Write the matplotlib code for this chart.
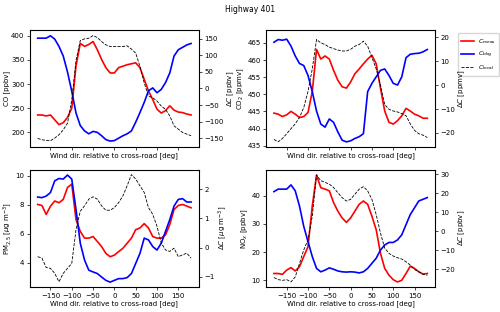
import numpy as np
import matplotlib
matplotlib.use("Agg")
import matplotlib.pyplot as plt

plt.rcParams['font.size'] = 5

# wind direction relative to cross-road [deg]
wind_dir = list(range(-180, 181, 10))

# CO [ppbv]
co_meas = [236, 236, 234, 236, 226, 216, 220, 231, 250, 338, 384, 378, 382, 388, 371, 351, 334, 323, 323,
           334, 337, 340, 342, 344, 334, 310, 286, 268, 248, 240, 245, 255, 246, 242, 241, 238, 236]
co_bkg = [395, 395, 395, 400, 393, 378, 358, 325, 285, 240, 214, 203, 197, 202, 200, 193, 185, 182, 183,
          188, 193, 197, 203, 221, 241, 262, 286, 292, 282, 289, 303, 323, 358, 371, 376, 381, 384]
co_local = [-151, -155, -157, -158, -150, -140, -125, -105, -35, 85, 145, 150, 152, 160, 154, 142, 132, 127, 127,
            127, 127, 129, 119, 107, 67, 17, -23, -28, -38, -53, -63, -83, -113, -123, -133, -138, -143]

# CO2 [ppmv]
co2_meas = [444.5, 444.2, 443.5, 444.0, 445.0, 444.2, 443.2, 443.5, 444.7, 450.8, 463.1, 460.3, 461.2, 460.3,
            457.0, 454.1, 452.2, 451.8, 453.6, 456.0, 457.4, 458.9, 460.3, 461.4, 458.9, 451.8, 445.1, 441.8,
            441.3, 442.3, 443.7, 445.9, 445.1, 444.2, 443.7, 443.0, 443.0]
co2_bkg = [465.2, 466.0, 465.8, 466.1, 464.1, 461.2, 459.0, 458.4, 455.5, 450.8, 445.1, 441.3, 440.4, 442.8,
           441.8, 439.0, 436.6, 436.1, 436.4, 437.1, 437.6, 438.5, 450.8, 453.2, 455.1, 457.0, 457.4, 455.5,
           453.2, 452.7, 455.1, 460.7, 461.7, 461.9, 462.0, 462.4, 463.1]
co2_local = [-22.7, -23.7, -22.3, -20.3, -18.2, -16.2, -13.5, -9.4, -2.6, 6.8, 19.1, 17.7, 17.0, 15.9, 15.3,
             14.7, 14.3, 14.3, 15.0, 16.3, 17.0, 18.4, 16.3, 11.6, 6.8, 0.1, -8.1, -10.1, -10.8, -11.2, -11.9,
             -12.8, -16.2, -18.9, -20.3, -20.9, -21.9]

# PM2.5 [ug m-3]
pm_meas = [8.02, 7.95, 7.33, 7.90, 8.26, 8.14, 8.37, 9.19, 9.42, 6.98, 6.16, 5.70, 5.70, 5.81, 5.47, 5.12,
           4.65, 4.42, 4.53, 4.77, 5.00, 5.35, 5.70, 6.28, 6.40, 6.70, 6.40, 5.81, 5.70, 5.70, 5.93, 6.63,
           7.67, 7.95, 8.02, 7.91, 7.79]
pm_bkg = [8.53, 8.49, 8.60, 8.84, 9.65, 9.81, 9.77, 10.05, 9.77, 7.67, 5.35, 4.19, 3.49, 3.37, 3.26, 3.02,
          2.79, 2.67, 2.79, 2.91, 2.91, 2.98, 3.26, 3.95, 4.65, 5.70, 5.58, 5.12, 4.88, 5.35, 6.16, 6.98,
          7.91, 8.37, 8.42, 8.19, 8.19]
pm_local = [-0.31, -0.36, -0.68, -0.71, -0.88, -1.17, -0.88, -0.71, -0.54, 0.62, 1.25, 1.43, 1.66, 1.74, 1.66,
            1.43, 1.28, 1.28, 1.37, 1.54, 1.77, 2.12, 2.50, 2.35, 2.12, 1.89, 1.37, 1.14, 0.73, 0.16, -0.08,
            -0.13, -0.02, -0.31, -0.25, -0.19, -0.36]

# NOx [ppbv]
nox_meas = [12.4, 12.4, 12.1, 13.6, 14.5, 13.3, 14.8, 18.4, 21.9, 36.3, 47.3, 42.8, 42.3, 41.7, 37.5, 34.5,
            32.1, 30.5, 32.1, 34.5, 36.9, 38.1, 36.9, 32.7, 27.9, 19.6, 14.2, 11.8, 10.2, 9.4, 10.0, 12.4,
            15.0, 14.2, 13.0, 12.2, 12.4]
nox_bkg = [41.4, 42.3, 42.3, 42.3, 43.8, 41.7, 36.3, 29.1, 23.7, 18.4, 14.2, 13.0, 13.6, 14.4, 13.9, 13.3,
           13.0, 12.9, 13.0, 12.9, 12.6, 13.0, 14.2, 16.0, 17.8, 20.7, 22.5, 23.4, 23.4, 24.3, 26.1, 29.7,
           33.3, 35.7, 38.1, 38.7, 39.3]
nox_local = [-24.4, -25.5, -25.9, -25.5, -26.7, -24.1, -17.0, -9.9, -4.6, 7.8, 29.5, 26.5, 25.6, 24.7, 22.9,
             20.2, 17.6, 15.8, 16.7, 19.4, 22.0, 23.4, 21.1, 16.7, 8.7, -1.0, -9.0, -11.7, -13.1, -14.0, -14.7,
             -16.1, -17.9, -20.2, -21.4, -22.7, -23.2]

panels = [
    (co_meas, co_bkg, co_local, "CO [ppbv]", r"$\Delta C$ [ppbv]", (169, 412), (-178, 177)),
    (co2_meas, co2_bkg, co2_local, r"CO$_2$ [ppmv]", r"$\Delta C$ [ppmv]", (434.5, 468.8), (-26, 23.1)),
    (pm_meas, pm_bkg, pm_local, r"PM$_{2.5}$ [$\mu$g m$^{-3}$]", r"$\Delta C$ [$\mu$g m$^{-3}$]", (2.33, 10.42), (-1.35, 2.67)),
    (nox_meas, nox_bkg, nox_local, r"NO$_x$ [ppbv]", r"$\Delta C$ [ppbv]", (7.6, 49.2), (-29.4, 32.3)),
]

fig, axes = plt.subplots(2, 2, figsize=(5, 3.12), dpi=100, sharex=True)
fig.subplots_adjust(left=0.06, right=0.87, top=0.904, bottom=0.08, wspace=0.40, hspace=0.19)
fig.suptitle("Highway 401", fontsize=5.5, y=0.985)

x = np.array(wind_dir)
for ax, (meas, bkg, local, ylab, rlab, ylim, rlim) in zip(axes.flat, panels):
    l1, = ax.plot(x, meas, color='red', lw=1.2, label=r'$C_{\rm meas}$')
    l2, = ax.plot(x, bkg, color='blue', lw=1.2, label=r'$C_{\rm bkg}$')
    ax.set_ylim(*ylim)
    ax.set_ylabel(ylab, labelpad=1)
    ax.set_xlabel("Wind dir. relative to cross-road [deg]", labelpad=1)
    ax.tick_params(pad=1.5, length=2.5, width=0.5)
    ax.set_xticks([-150, -100, -50, 0, 50, 100, 150])
    for s in ax.spines.values():
        s.set_linewidth(0.6)
    ax2 = ax.twinx()
    l3, = ax2.plot(x, local, color='black', lw=0.6, ls='--', label=r'$C_{\rm local}$')
    ax2.set_ylim(*rlim)
    ax2.set_ylabel(rlab, labelpad=1)
    ax2.tick_params(pad=1.5, length=2.5, width=0.5)

axes[0, 1].legend([l1, l2, l3], [l1.get_label(), l2.get_label(), l3.get_label()],
                  loc='upper left', bbox_to_anchor=(1.115, 1.0), fontsize=4.5,
                  handlelength=2.0, borderpad=0.6, labelspacing=0.6, handletextpad=0.6)

fig.savefig("out.png", dpi=100)
